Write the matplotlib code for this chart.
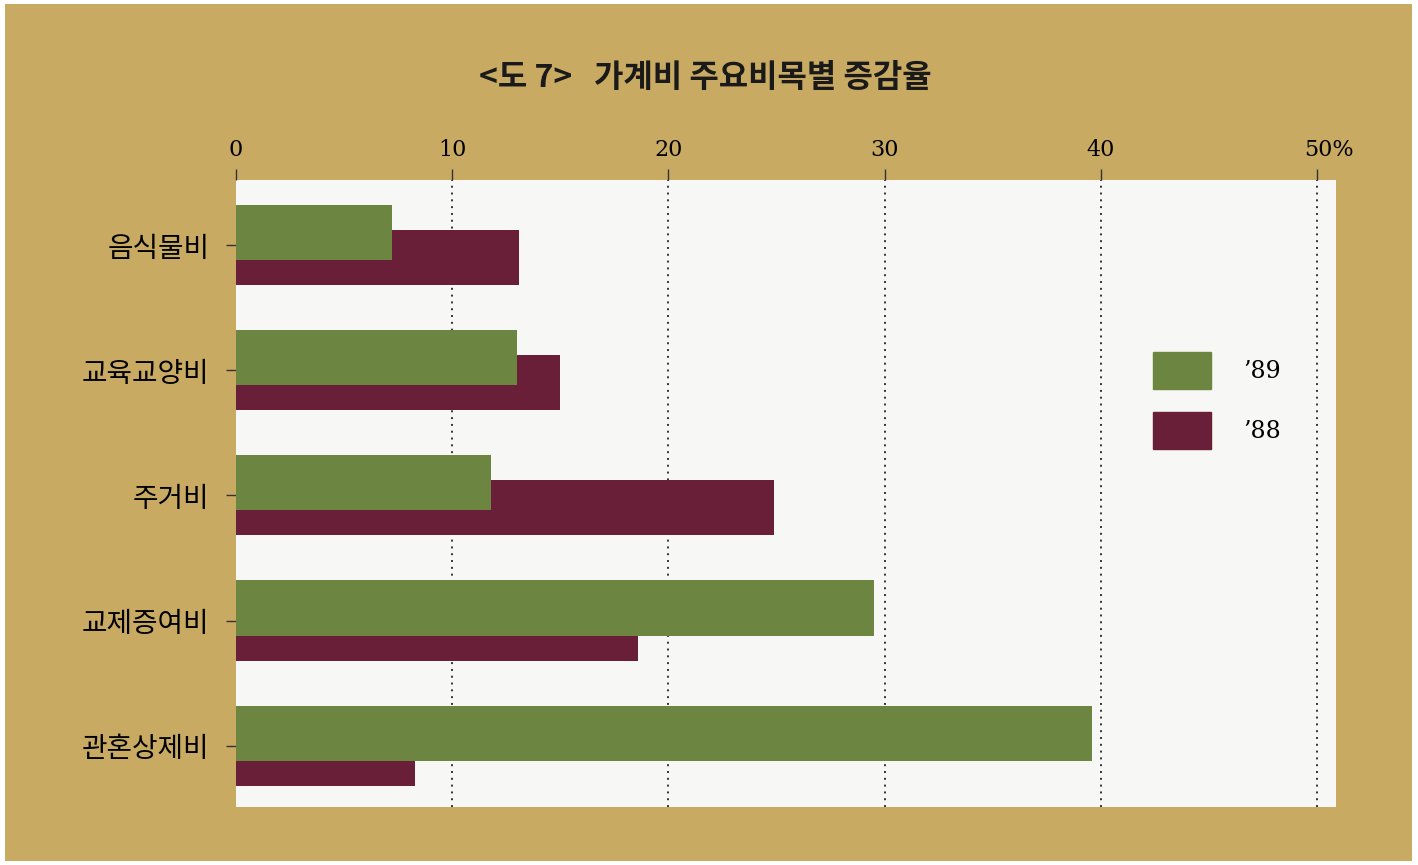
import numpy as np
import matplotlib.pyplot as plt
import matplotlib.transforms as mtransforms
from matplotlib.patches import Rectangle, Patch

plt.rcParams['font.family'] = ['Noto Sans CJK KR', 'DejaVu Sans']

# data (increase rate, %)
categories = ['음식물비', '교육교양비', '주거비', '교제증여비', '관혼상제비']
rate_89 = [7.2, 13.0, 11.8, 29.5, 39.6]
rate_88 = [13.1, 15.0, 24.9, 18.6, 8.3]
x_ticks = [0, 10, 20, 30, 40, 50]
x_tick_labels = ['0', '10', '20', '30', '40', '50%']
series_labels = ["’89", "’88"]

tan = '#c9aa62'
green = '#6c8642'
maroon = '#6a1f38'
paper = '#f7f7f5'

fig = plt.figure(figsize=(14.18, 8.65), dpi=100)
fig.patch.set_facecolor('white')
# tan page background
fig.patches.append(Rectangle((5 / 1418, 4 / 865), 1407 / 1418, 857 / 865,
                             transform=fig.transFigure, facecolor=tan,
                             edgecolor='none', zorder=-5))

ax = fig.add_axes([236 / 1418, (865 - 807) / 865, 1100 / 1418, 627 / 865])
ax.set_facecolor(paper)

y = np.arange(len(categories))
h = 0.44
off = 0.1
ax.barh(y + off, rate_88, height=h, color=maroon, zorder=2)
ax.barh(y - off, rate_89, height=h, color=green, zorder=3)

ax.set_xlim(0, 50.88)
ax.set_ylim(len(categories) - 1 + 0.49, -0.52)

for v in x_ticks[1:]:
    ax.axvline(v, color='#333333', lw=1.4, ls=(0, (1, 2.5)), zorder=1)

ax.xaxis.tick_top()
ax.set_xticks(x_ticks)
ax.set_xticklabels(x_tick_labels, family='DejaVu Serif', fontsize=16)
ax.tick_params(axis='x', length=8, width=1, color='#333333', pad=6)
# the "%" hangs to the right of the last number
last = ax.get_xticklabels()[-1]
last.set_ha('left')
last.set_transform(last.get_transform() +
                   mtransforms.ScaledTranslation(-13 / 100, 0, fig.dpi_scale_trans))
ax.set_yticks(y)
ax.set_yticklabels(categories, fontsize=20)
ax.tick_params(axis='y', length=7, width=1, color='#333333', pad=12)
for s in ax.spines.values():
    s.set_visible(False)

handles = [Patch(color=green), Patch(color=maroon)]
leg = ax.legend(handles, series_labels, loc='upper left',
                bbox_to_anchor=(0.8147, 0.760), frameon=False,
                handlelength=2.45, handleheight=2.03, handletextpad=1.35,
                labelspacing=1.0, prop={'family': 'DejaVu Serif', 'size': 17})

fig.text(705 / 1418, 1 - 78 / 865, '<도 7>   가계비 주요비목별 증감율',
         ha='center', va='center', fontsize=23, weight='bold', color='#1a1a1a')

fig.savefig('out.png', dpi=100)
